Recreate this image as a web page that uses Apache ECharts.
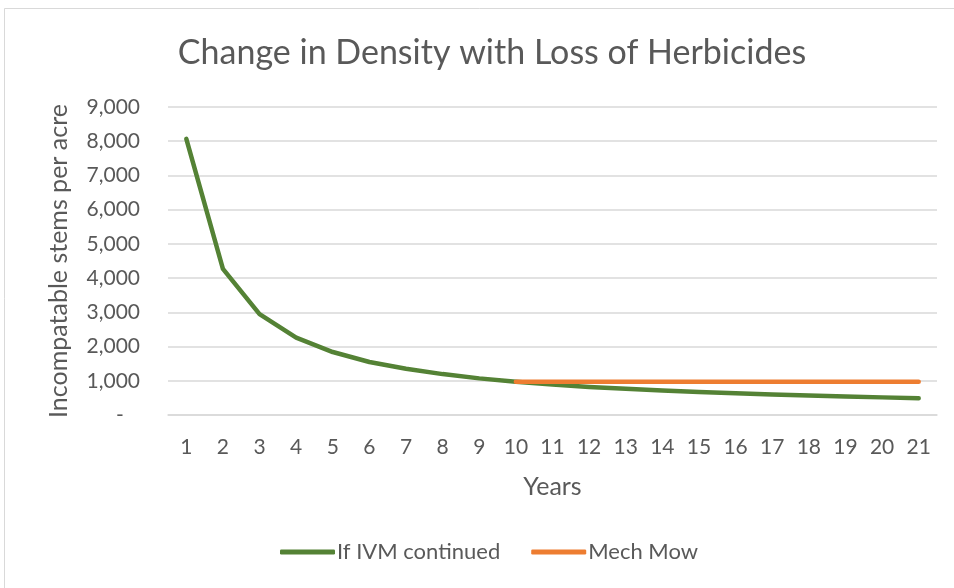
<!DOCTYPE html>
<html><head><meta charset="utf-8">
<script src="https://cdn.jsdelivr.net/npm/echarts@6/dist/echarts.min.js"></script>
<style>html,body{margin:0;padding:0;background:#fff}#c{width:954px;height:588px}</style>
</head><body><div id="c"></div>
<script>
const years = ['1','2','3','4','5','6','7','8','9','10','11','12','13','14','15','16','17','18','19','20','21'];
const ivmContinued = [8070,4270,2950,2260,1840,1550,1350,1195,1070,970,890,820,765,715,670,632,598,567,540,515,490];
const mechMow = [null,null,null,null,null,null,null,null,null,970,970,970,970,970,970,970,970,970,970,970,970];
const yTickLabels = {0:'-   ',1000:'1,000',2000:'2,000',3000:'3,000',4000:'4,000',5000:'5,000',6000:'6,000',7000:'7,000',8000:'8,000',9000:'9,000'};

const FONT = 'Lato';
const chart = echarts.init(document.getElementById('c'));
chart.setOption({
  backgroundColor:'#fff',
  animation:false,
  graphic:[{type:'rect',silent:true,z:-10,shape:{x:4.5,y:8.5,width:1000,height:600},
    style:{fill:'#fff',stroke:'#d9d9d9',lineWidth:1}}],
  title:{text:'Change in Density with Loss of Herbicides',left:487,textAlign:'center',top:31,
    textStyle:{fontFamily:FONT,fontSize:34,fontWeight:'normal',color:'#595959'}},
  legend:{bottom:20,left:275,icon:'roundRect',itemWidth:55,itemHeight:5,itemGap:31,
    textStyle:{fontFamily:FONT,fontSize:22,color:'#595959',padding:[0,0,0,-3]},
    data:['If IVM continued','Mech Mow']},
  grid:{left:168,right:17,top:107,bottom:173,containLabel:false},
  xAxis:{type:'category',data:years,boundaryGap:true,
    name:'Years',nameLocation:'middle',nameGap:59,
    nameTextStyle:{fontFamily:FONT,fontSize:25,color:'#595959'},
    axisLine:{lineStyle:{color:'#d9d9d9',width:1.5}},axisTick:{show:false},
    axisLabel:{fontFamily:FONT,fontSize:21,color:'#595959',margin:22}},
  yAxis:{type:'value',min:0,max:9000,interval:1000,
    name:'Incompatable stems per acre',nameLocation:'middle',nameGap:97,
    nameTextStyle:{fontFamily:FONT,fontSize:25,color:'#595959'},
    axisLine:{show:false},axisTick:{show:false},
    splitLine:{lineStyle:{color:'#d9d9d9',width:1.5}},
    axisLabel:{fontFamily:FONT,fontSize:21,color:'#595959',margin:28,
      formatter:v=>yTickLabels[v]}},
  series:[
    {name:'If IVM continued',type:'line',data:ivmContinued,symbol:'none',
      itemStyle:{color:'#548235'},lineStyle:{color:'#548235',width:4.5,cap:'round',join:'round'}},
    {name:'Mech Mow',type:'line',data:mechMow,symbol:'none',
      itemStyle:{color:'#ED7D31'},lineStyle:{color:'#ED7D31',width:4.5,cap:'round',join:'round'}}
  ]
});
</script></body></html>
